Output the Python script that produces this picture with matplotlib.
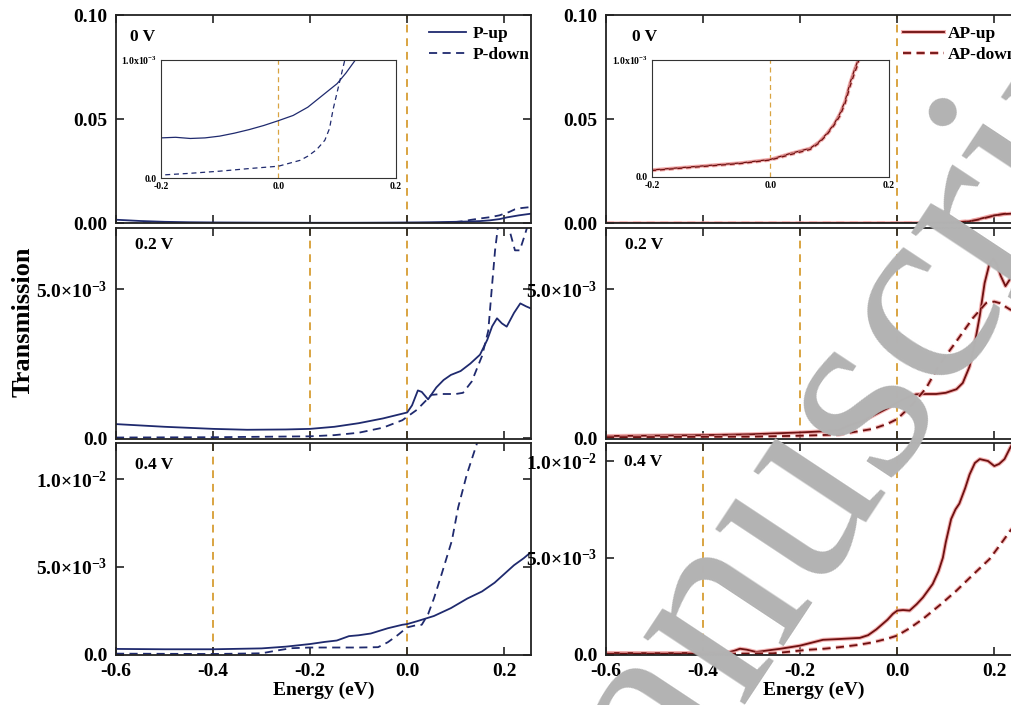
import matplotlib
matplotlib.use("Agg")
import matplotlib.pyplot as plt
import matplotlib.patheffects as pe

plt.rcParams['font.family'] = ['Liberation Serif', 'DejaVu Serif']
plt.rcParams['font.weight'] = 'bold'
plt.rcParams['mathtext.fontset'] = 'custom'
plt.rcParams['mathtext.rm'] = 'Liberation Serif:bold'
plt.rcParams['mathtext.bf'] = 'Liberation Serif:bold'
plt.rcParams['mathtext.it'] = 'Liberation Serif:bold:italic'

# ---------------- data (energy in eV, transmission in units of 1e-3) ----------------
SCALE = 1e-3

# 0 V, parallel
E_0V_Pup = [-0.6, -0.55, -0.5, -0.45, -0.4, -0.3, -0.2, -0.175, -0.15, -0.125, -0.1, -0.075,
            -0.05, -0.025, 0.0, 0.025, 0.05, 0.075, 0.1, 0.115, 0.131, 0.15, 0.17, 0.19, 0.205, 0.23, 0.255]
T_0V_Pup = [1.8, 1.2, 0.8, 0.6, 0.5, 0.4, 0.34, 0.345, 0.335, 0.34, 0.355, 0.38,
            0.41, 0.445, 0.486, 0.53, 0.6, 0.7, 0.8, 0.89, 1.0, 1.15, 1.5, 2.1, 2.9, 3.9, 4.7]
E_0V_Pdn = [-0.6, -0.4, -0.3, -0.2, -0.15, -0.1, -0.077, -0.05, 0.0, 0.037, 0.05, 0.065, 0.079,
            0.087, 0.093, 0.102, 0.113, 0.13, 0.15, 0.17, 0.19, 0.21, 0.222, 0.235, 0.255]
T_0V_Pdn = [0.01, 0.012, 0.015, 0.025, 0.04, 0.058, 0.068, 0.08, 0.1, 0.15, 0.185, 0.24, 0.32,
            0.42, 0.58, 0.77, 1.0, 1.7, 2.4, 3.0, 3.9, 5.5, 6.8, 7.4, 7.9]

# 0 V, antiparallel
E_0V_APup = [-0.6, -0.4, -0.3, -0.2, -0.15, -0.1, -0.05, 0.0, 0.033, 0.067, 0.082, 0.095, 0.107,
             0.117, 0.126, 0.134, 0.142, 0.148, 0.17, 0.19, 0.2, 0.22, 0.255]
T_0V_APup = [0.02, 0.035, 0.045, 0.06, 0.08, 0.1, 0.12, 0.15, 0.2, 0.245, 0.3, 0.37, 0.45,
             0.54, 0.65, 0.8, 0.92, 1.0, 2.2, 3.4, 3.9, 4.5, 5.0]
E_0V_APdn = [-0.6, -0.4, -0.3, -0.2, -0.15, -0.1, -0.05, 0.0, 0.033, 0.067, 0.082, 0.095, 0.107,
             0.117, 0.126, 0.134, 0.142, 0.148, 0.17, 0.19, 0.2, 0.22, 0.255]
T_0V_APdn = [0.02, 0.033, 0.042, 0.055, 0.075, 0.095, 0.115, 0.145, 0.19, 0.235, 0.29, 0.36, 0.44,
             0.52, 0.63, 0.77, 0.89, 0.97, 2.0, 3.2, 3.8, 4.6, 5.2]

# 0.2 V, parallel
E_02V_Pup = [-0.6, -0.5, -0.4, -0.33, -0.25, -0.2, -0.15, -0.1, -0.05, 0.0, 0.01, 0.022, 0.03,
             0.043, 0.06, 0.075, 0.09, 0.11, 0.13, 0.15, 0.165, 0.175, 0.185, 0.195, 0.205,
             0.22, 0.233, 0.245, 0.255]
T_02V_Pup = [0.47, 0.38, 0.31, 0.28, 0.29, 0.31, 0.38, 0.5, 0.66, 0.86, 1.1, 1.6, 1.55,
             1.3, 1.7, 1.95, 2.12, 2.25, 2.5, 2.8, 3.3, 3.75, 4.02, 3.85, 3.74,
             4.2, 4.52, 4.42, 4.35]
E_02V_Pdn = [-0.6, -0.4, -0.2, -0.15, -0.1, -0.05, -0.01, 0.02, 0.035, 0.05, 0.07, 0.1, 0.115,
             0.133, 0.154, 0.167, 0.174, 0.181, 0.187, 0.195, 0.205, 0.212, 0.222, 0.232, 0.242, 0.255]
T_02V_Pdn = [0.02, 0.03, 0.06, 0.1, 0.18, 0.35, 0.6, 0.95, 1.2, 1.45, 1.48, 1.48, 1.52,
             1.9, 2.75, 3.6, 4.97, 6.3, 7.1, 7.8, 7.5, 6.9, 6.3, 6.3, 6.8, 7.5]

# 0.2 V, antiparallel
E_02V_APup = [-0.6, -0.4, -0.3, -0.2, -0.15, -0.12, -0.1, -0.075, -0.05, -0.02, 0.0, 0.02,
              0.039, 0.06, 0.08, 0.1, 0.122, 0.135, 0.149, 0.16, 0.17, 0.18, 0.19, 0.198,
              0.205, 0.213, 0.223, 0.233, 0.245, 0.255]
T_02V_APup = [0.07, 0.1, 0.13, 0.19, 0.23, 0.27, 0.42, 0.55, 0.75, 1.0, 1.2, 1.36,
              1.47, 1.48, 1.48, 1.52, 1.64, 1.85, 2.4, 3.2, 4.1, 5.2, 5.85, 6.02,
              5.85, 5.45, 5.1, 5.35, 5.7, 5.9]
E_02V_APdn = [-0.6, -0.3, -0.2, -0.12, -0.05, -0.02, 0.0, 0.032, 0.06, 0.087, 0.122, 0.156,
              0.183, 0.2, 0.211, 0.233, 0.255]
T_02V_APdn = [0.03, 0.05, 0.08, 0.12, 0.31, 0.48, 0.64, 1.14, 1.69, 2.47, 3.25, 4.03,
              4.53, 4.58, 4.53, 4.31, 4.2]

# 0.4 V, parallel
E_04V_Pup = [-0.6, -0.5, -0.4, -0.3, -0.25, -0.2, -0.17, -0.145, -0.13, -0.12, -0.1, -0.075, -0.04,
             -0.01, 0.0, 0.02, 0.055, 0.09, 0.124, 0.154, 0.18, 0.2, 0.22, 0.24, 0.255]
T_04V_Pup = [0.32, 0.3, 0.3, 0.35, 0.45, 0.6, 0.72, 0.8, 0.95, 1.05, 1.1, 1.2, 1.5,
             1.7, 1.74, 1.9, 2.2, 2.65, 3.2, 3.6, 4.1, 4.6, 5.1, 5.5, 5.85]
E_04V_Pdn = [-0.6, -0.5, -0.4, -0.3, -0.27, -0.24, -0.2, -0.1, -0.06, -0.04, -0.02, 0.0,
             0.015, 0.03, 0.043, 0.055, 0.071, 0.092, 0.105, 0.123, 0.143, 0.17, 0.255]
T_04V_Pdn = [0.05, 0.04, 0.03, 0.07, 0.22, 0.36, 0.4, 0.4, 0.42, 0.7, 1.1, 1.55,
             1.65, 1.7, 2.3, 3.2, 4.6, 6.5, 8.4, 10.3, 12.0, 14.0, 20.0]

# 0.4 V, antiparallel
E_04V_APup = [-0.6, -0.5, -0.4, -0.35, -0.335, -0.324, -0.31, -0.29, -0.27, -0.24, -0.2,
              -0.175, -0.153, -0.12, -0.077, -0.06, -0.043, -0.02, -0.009, 0.0, 0.012, 0.0255,
              0.04, 0.053, 0.073, 0.085, 0.094, 0.1, 0.111, 0.12, 0.128, 0.14, 0.149, 0.16,
              0.17, 0.187, 0.2, 0.21, 0.221, 0.233, 0.245, 0.255]
T_04V_APup = [0.08, 0.07, 0.08, 0.1, 0.2, 0.3, 0.25, 0.13, 0.2, 0.3, 0.46,
              0.62, 0.76, 0.8, 0.86, 1.0, 1.3, 1.8, 2.1, 2.27, 2.3, 2.27,
              2.6, 2.95, 3.64, 4.3, 5.0, 5.8, 7.0, 7.5, 7.8, 8.6, 9.3, 9.9,
              10.1, 10.0, 9.74, 9.85, 10.1, 10.7, 11.2, 11.5]
E_04V_APdn = [-0.6, -0.35, -0.3, -0.256, -0.22, -0.187, -0.15, -0.119, -0.08, -0.05, -0.02,
              0.0, 0.025, 0.053, 0.09, 0.122, 0.155, 0.19, 0.21, 0.233, 0.255]
T_04V_APdn = [0.03, 0.04, 0.05, 0.06, 0.15, 0.24, 0.3, 0.38, 0.5, 0.63, 0.82,
              0.98, 1.35, 1.84, 2.6, 3.3, 4.1, 4.93, 5.6, 6.4, 7.1]

bias_labels = ['0 V', '0.2 V', '0.4 V']
window_lines = [[0.0], [-0.2, 0.0], [-0.4, 0.0]]
x_ticks = [-0.6, -0.4, -0.2, 0.0, 0.2]
x_ticklabels = ['-0.6', '-0.4', '-0.2', '0.0', '0.2']

y_ticks = [
    ([0.0, 0.05, 0.10], ['0.00', '0.05', '0.10'], (0.0, 0.10)),
    ([0.0, 5.0e-3], ['0.0', r'$\mathbf{5.0{\times}10^{-3}}$'], (-0.03e-3, 7.05e-3)),
]
y_ticks_bottom_left = ([0.0, 5.0e-3, 1.0e-2],
                       ['0.0', r'$\mathbf{5.0{\times}10^{-3}}$', r'$\mathbf{1.0{\times}10^{-2}}$'],
                       (0.0, 12.08e-3))
y_ticks_bottom_right = ([0.0, 5.0e-3, 1.0e-2],
                        ['0.0', r'$\mathbf{5.0{\times}10^{-3}}$', r'$\mathbf{1.0{\times}10^{-2}}$'],
                        (0.0, 10.93e-3))

P_COLOR = '#1f2a6e'
AP_COLOR = '#6e1010'
AP_GLOW = '#f0a0a0'
WIN_COLOR = '#d9a441'

fig = plt.figure(figsize=(10.11, 7.05), dpi=100)

col_left = [0.1147, 0.5994]
col_w = 0.4105
rows = [(0.683, 0.2957), (0.3773, 0.2993), (0.0716, 0.3000)]

series = {
    (0, 0): ((E_0V_Pup, T_0V_Pup), (E_0V_Pdn, T_0V_Pdn)),
    (0, 1): ((E_0V_APup, T_0V_APup), (E_0V_APdn, T_0V_APdn)),
    (1, 0): ((E_02V_Pup, T_02V_Pup), (E_02V_Pdn, T_02V_Pdn)),
    (1, 1): ((E_02V_APup, T_02V_APup), (E_02V_APdn, T_02V_APdn)),
    (2, 0): ((E_04V_Pup, T_04V_Pup), (E_04V_Pdn, T_04V_Pdn)),
    (2, 1): ((E_04V_APup, T_04V_APup), (E_04V_APdn, T_04V_APdn)),
}
names = [('P-up', 'P-down'), ('AP-up', 'AP-down')]
label_pos = {(0, 0): (0.034, 0.895), (0, 1): (0.063, 0.895),
             (1, 0): (0.046, 0.92), (1, 1): (0.046, 0.92),
             (2, 0): (0.046, 0.896), (2, 1): (0.043, 0.91)}

def style_axes(ax):
    for s in ax.spines.values():
        s.set_linewidth(1.3)
        s.set_color('#222222')
    ax.tick_params(direction='in', top=True, right=True, length=6, width=1.2,
                   labelsize=14, pad=6, color='#222222')

def draw_lines(ax, c, up, dn, lw=1.3, dash=(0, (4.5, 3))):
    if c == 0:
        l1, = ax.plot(up[0], [v * SCALE for v in up[1]], color=P_COLOR, lw=lw, ls='-')
        l2, = ax.plot(dn[0], [v * SCALE for v in dn[1]], color=P_COLOR, lw=lw, ls=dash)
    else:
        eff = [pe.Stroke(linewidth=lw + 1.6, foreground=AP_GLOW, alpha=0.8), pe.Normal()]
        l1, = ax.plot(up[0], [v * SCALE for v in up[1]], color=AP_COLOR, lw=lw, ls='-',
                      path_effects=eff)
        l2, = ax.plot(dn[0], [v * SCALE for v in dn[1]], color=AP_COLOR, lw=lw, ls=dash,
                      path_effects=eff)
    return l1, l2

for r, (b, h) in enumerate(rows):
    for c in range(2):
        ax = fig.add_axes([col_left[c], b, col_w, h])
        style_axes(ax)
        up, dn = series[(r, c)]
        for xv in window_lines[r]:
            ax.axvline(xv, color=WIN_COLOR, lw=1.4, ls=(0, (4, 3)), zorder=1)
        l1, l2 = draw_lines(ax, c, up, dn)
        ax.set_xlim(-0.6, 0.255)
        ax.set_xticks(x_ticks)
        if r < 2:
            yt, yl, ylim = y_ticks[r]
        else:
            yt, yl, ylim = y_ticks_bottom_left if c == 0 else y_ticks_bottom_right
        ax.set_yticks(yt)
        ax.set_yticklabels(yl)
        ax.set_ylim(*ylim)
        if r == 2:
            ax.set_xticklabels(x_ticklabels)
            ax.set_xlabel('Energy (eV)', fontsize=14, fontweight='bold', labelpad=1)
        else:
            ax.tick_params(labelbottom=False)
        lx, ly = label_pos[(r, c)]
        ax.text(lx, ly, bias_labels[r], transform=ax.transAxes, fontsize=12.5,
                fontweight='bold', va='center', ha='left')
        if r == 0:
            if c == 0:
                ax.legend([l1, l2], list(names[c]), loc='upper left',
                          bbox_to_anchor=(0.755, 0.948), frameon=False, borderpad=0,
                          borderaxespad=0, handlelength=2.1, handletextpad=0.42,
                          labelspacing=0.3, prop={'size': 12.5, 'weight': 'bold'})
            else:
                ax.legend([l1, l2], list(names[c]), loc='upper left',
                          bbox_to_anchor=(0.716, 0.948), frameon=False, borderpad=0,
                          borderaxespad=0, handlelength=2.35, handletextpad=0.2,
                          labelspacing=0.3, prop={'size': 12.5, 'weight': 'bold'})
            # inset
            if c == 0:
                ins = fig.add_axes([0.1592, 0.7475, 0.2324, 0.1674])
            else:
                ins = fig.add_axes([0.6449, 0.749, 0.2344, 0.166])
            for s in ins.spines.values():
                s.set_linewidth(0.8)
                s.set_color('#333333')
            ins.axvline(0.0, color=WIN_COLOR, lw=0.9, ls=(0, (4, 3)), zorder=1)
            draw_lines(ins, c, up, dn, lw=0.9, dash=(0, (4, 3)))
            ins.set_xlim(-0.2, 0.2)
            ins.set_ylim(0.0, 1.0e-3)
            ins.set_xticks([-0.2, 0.0, 0.2])
            ins.set_xticklabels(['-0.2', '0.0', '0.2'])
            ins.set_yticks([0.0, 1.0e-3])
            ins.set_yticklabels(['0.0', r'$\mathbf{1.0x10^{-3}}$'])
            ins.tick_params(length=0, labelsize=7, pad=3)

fig.text(0.023, 0.543, 'Transmission', rotation=90, fontsize=19, fontweight='bold',
         ha='center', va='center')

# watermark
fig.text(0.538, -0.4156, 'Manuscript', rotation=56.5, rotation_mode='anchor', ha='left',
         va='baseline', fontsize=191, family='Liberation Serif', fontweight='normal',
         color='#b3b3b3', zorder=10)

fig.savefig('out.png', dpi=100)
